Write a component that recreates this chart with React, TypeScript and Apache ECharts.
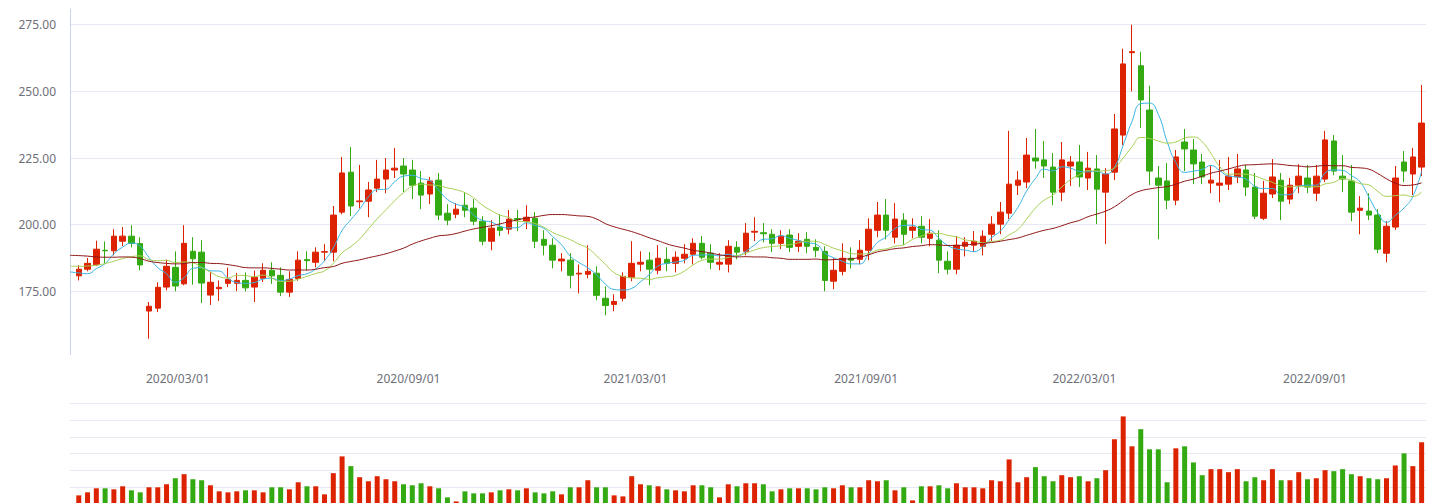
import React, { useEffect, useRef } from 'react';
import * as echarts from 'echarts';

// Week-ending trading dates (index 0 is the week before the first candle, used only by the MA lines)
const weeks: string[] = [
  '2019-11-29',
  '2019-12-06', '2019-12-13', '2019-12-20', '2019-12-27',
  '2020-01-03', '2020-01-10', '2020-01-17', '2020-01-23', '2020-02-07', '2020-02-14', '2020-02-21', '2020-02-28',
  '2020-03-06', '2020-03-13', '2020-03-20', '2020-03-27', '2020-04-03', '2020-04-10', '2020-04-17', '2020-04-24',
  '2020-04-30', '2020-05-08', '2020-05-15', '2020-05-22', '2020-05-29', '2020-06-05', '2020-06-12', '2020-06-19',
  '2020-06-24', '2020-07-03', '2020-07-10', '2020-07-17', '2020-07-24', '2020-07-31', '2020-08-07', '2020-08-14',
  '2020-08-21', '2020-08-28', '2020-09-04', '2020-09-11', '2020-09-18', '2020-09-25', '2020-09-30', '2020-10-09',
  '2020-10-16', '2020-10-23', '2020-10-30', '2020-11-06', '2020-11-13', '2020-11-20', '2020-11-27', '2020-12-04',
  '2020-12-11', '2020-12-18', '2020-12-25', '2020-12-31',
  '2021-01-08', '2021-01-15', '2021-01-22', '2021-01-29', '2021-02-05', '2021-02-10', '2021-02-19', '2021-02-26',
  '2021-03-05', '2021-03-12', '2021-03-19', '2021-03-26', '2021-04-02', '2021-04-09', '2021-04-16', '2021-04-23',
  '2021-04-30', '2021-05-07', '2021-05-14', '2021-05-21', '2021-05-28', '2021-06-04', '2021-06-11', '2021-06-18',
  '2021-06-25', '2021-07-02', '2021-07-09', '2021-07-16', '2021-07-23', '2021-07-30', '2021-08-06', '2021-08-13',
  '2021-08-20', '2021-08-27', '2021-09-03', '2021-09-10', '2021-09-17', '2021-09-24', '2021-09-30', '2021-10-08',
  '2021-10-15', '2021-10-22', '2021-10-29', '2021-11-05', '2021-11-12', '2021-11-19', '2021-11-26', '2021-12-03',
  '2021-12-10', '2021-12-17', '2021-12-24', '2021-12-31',
  '2022-01-07', '2022-01-14', '2022-01-21', '2022-01-28', '2022-02-11', '2022-02-18', '2022-02-25', '2022-03-04',
  '2022-03-11', '2022-03-18', '2022-03-25', '2022-04-01', '2022-04-08', '2022-04-15', '2022-04-22', '2022-04-29',
  '2022-05-06', '2022-05-13', '2022-05-20', '2022-05-27', '2022-06-02', '2022-06-10', '2022-06-17', '2022-06-24',
  '2022-07-01', '2022-07-08', '2022-07-15', '2022-07-22', '2022-07-29', '2022-08-05', '2022-08-12', '2022-08-19',
  '2022-08-26', '2022-09-02', '2022-09-09', '2022-09-16', '2022-09-23', '2022-09-30', '2022-10-14', '2022-10-21',
  '2022-10-28', '2022-11-04', '2022-11-11', '2022-11-18', '2022-11-25', '2022-12-02',
];

// OHLC for weeks[1..154]
const openP: number[] = [
  180.8, 183.3, 185.0, 190.4, 190.2, 193.8, 195.7, 192.9, 167.6, 168.7,
  176.6, 184.0, 177.8, 190.0, 189.7, 173.6, 176.0, 178.0, 178.0, 179.1,
  176.6, 179.9, 182.9, 181.0, 174.7, 179.8, 186.9, 185.9, 189.7, 189.7,
  204.7, 219.7, 208.6, 208.8, 213.7, 217.1, 220.5, 222.0, 220.5, 215.6,
  211.5, 216.7, 204.3, 203.9, 207.3, 206.2, 201.3, 193.8, 199.1, 198.3,
  202.3, 201.3, 202.4, 194.5, 192.3, 186.4, 186.7, 181.5, 181.4, 181.8,
  172.4, 170.1, 172.4, 180.3, 185.2, 186.7, 182.9, 187.0, 185.5, 187.4,
  188.9, 193.0, 189.3, 185.2, 185.2, 191.5, 190.0, 197.2, 197.0, 196.4,
  193.0, 196.1, 191.9, 194.5, 191.5, 190.0, 178.8, 182.5, 187.4, 187.0,
  190.4, 197.9, 203.6, 195.3, 201.7, 197.9, 199.4, 194.9, 194.2, 186.3,
  183.3, 191.9, 192.3, 191.9, 196.4, 200.2, 204.3, 214.8, 216.0, 225.0,
  224.3, 221.6, 212.2, 222.0, 223.5, 217.5, 220.9, 212.2, 219.7, 233.6,
  264.5, 259.6, 243.0, 217.5, 216.4, 209.2, 231.0, 228.0, 223.5, 215.6,
  214.8, 215.2, 217.9, 220.5, 214.1, 202.4, 211.5, 216.7, 209.6, 214.8,
  217.5, 211.8, 217.1, 231.4, 218.2, 216.4, 205.4, 205.1, 203.6, 189.3,
  199.1, 223.5, 219.0, 221.6,
];
const closeP: number[] = [
  183.3, 185.5, 190.8, 190.2, 195.7, 195.7, 193.0, 184.9, 169.4, 176.5,
  184.4, 177.0, 193.0, 187.2, 178.1, 178.4, 176.5, 179.5, 179.1, 176.3,
  180.3, 182.9, 180.8, 174.7, 179.5, 186.7, 186.5, 189.7, 189.9, 203.6,
  219.4, 207.0, 208.9, 213.0, 217.1, 220.5, 221.2, 219.0, 214.8, 211.1,
  216.4, 203.6, 201.7, 205.8, 205.4, 201.3, 193.8, 198.7, 197.9, 202.1,
  201.9, 202.8, 193.8, 192.3, 186.7, 187.1, 181.0, 181.8, 182.5, 173.5,
  169.7, 171.2, 180.6, 185.5, 185.9, 183.3, 187.4, 185.5, 187.8, 188.9,
  193.0, 187.8, 185.9, 185.9, 191.9, 189.7, 196.8, 197.5, 196.6, 193.0,
  195.7, 191.5, 193.8, 191.9, 190.4, 179.1, 182.9, 187.4, 186.7, 190.4,
  198.3, 203.6, 197.9, 202.1, 196.4, 199.1, 195.3, 196.8, 186.7, 183.3,
  192.3, 193.4, 193.8, 195.7, 200.2, 204.7, 215.2, 216.7, 226.1, 223.9,
  222.0, 212.2, 224.3, 223.5, 217.9, 221.2, 213.3, 219.0, 235.9, 260.3,
  264.9, 246.8, 220.1, 214.8, 209.2, 225.4, 228.4, 222.8, 217.9, 216.7,
  215.6, 218.2, 220.9, 214.1, 203.2, 211.8, 217.9, 208.8, 214.8, 218.2,
  214.1, 218.2, 231.8, 220.1, 217.1, 204.7, 206.2, 203.6, 190.8, 199.4,
  217.5, 220.1, 225.4, 238.1,
];
const lowP: number[] = [
  179.1, 182.5, 184.5, 185.4, 188.5, 192.0, 191.5, 182.9, 157.2, 167.2,
  175.4, 175.0, 177.3, 177.5, 170.6, 169.9, 171.4, 176.6, 175.1, 175.0,
  171.0, 178.5, 177.8, 173.2, 172.9, 179.0, 182.9, 184.0, 186.3, 186.3,
  203.9, 203.2, 206.1, 202.8, 212.2, 211.8, 217.5, 212.2, 209.6, 205.8,
  207.7, 201.7, 199.8, 202.4, 202.8, 199.8, 192.3, 190.4, 195.7, 196.4,
  197.6, 198.3, 191.2, 188.5, 183.6, 182.5, 176.1, 174.2, 179.9, 171.6,
  166.0, 167.5, 171.2, 178.8, 182.5, 177.3, 181.4, 182.5, 182.1, 185.5,
  185.1, 187.0, 183.3, 182.9, 182.1, 187.0, 188.5, 193.8, 193.4, 189.7,
  190.8, 189.7, 189.7, 189.3, 187.8, 175.0, 175.8, 181.0, 183.6, 185.1,
  186.7, 195.3, 194.5, 193.0, 192.3, 194.9, 193.0, 191.9, 181.8, 181.4,
  181.4, 188.1, 189.7, 188.5, 193.8, 196.4, 202.1, 211.1, 213.7, 221.0,
  217.5, 207.3, 208.8, 214.5, 214.1, 213.0, 200.2, 192.7, 216.7, 229.9,
  250.0, 236.3, 214.8, 194.5, 205.8, 207.3, 220.1, 215.2, 215.2, 211.8,
  208.4, 213.0, 215.6, 210.7, 202.1, 201.7, 210.0, 201.7, 207.7, 211.8,
  211.8, 208.8, 216.0, 218.6, 212.2, 201.3, 196.4, 201.7, 189.3, 185.9,
  198.0, 216.0, 211.1, 218.2,
];
const highP: number[] = [
  184.8, 187.5, 194.0, 193.7, 198.3, 199.1, 199.8, 195.3, 171.0, 178.4,
  186.9, 190.0, 199.8, 195.3, 194.2, 182.3, 179.1, 183.9, 181.9, 182.1,
  182.8, 185.5, 185.9, 184.0, 182.5, 190.0, 190.0, 191.5, 192.7, 207.0,
  225.4, 229.1, 222.4, 216.0, 224.3, 225.0, 228.8, 225.0, 224.3, 220.1,
  217.9, 219.4, 207.7, 208.1, 212.2, 209.6, 203.2, 201.7, 203.9, 205.5,
  205.5, 207.3, 204.7, 197.9, 194.9, 189.3, 189.3, 185.1, 192.3, 184.4,
  176.9, 173.9, 182.1, 193.8, 190.0, 189.7, 192.3, 191.5, 190.0, 192.7,
  194.9, 195.7, 192.7, 189.3, 194.2, 193.8, 200.6, 202.8, 200.6, 198.3,
  197.9, 198.3, 196.8, 197.2, 194.5, 191.9, 187.4, 193.0, 191.5, 194.2,
  202.4, 208.5, 209.6, 208.1, 204.3, 202.4, 203.2, 202.1, 197.9, 190.0,
  195.7, 195.3, 197.6, 197.9, 203.2, 208.5, 235.2, 220.1, 232.5, 235.9,
  231.4, 226.9, 231.0, 225.7, 229.9, 227.3, 226.1, 221.2, 241.5, 266.0,
  275.0, 264.9, 252.1, 222.0, 223.1, 228.0, 235.9, 232.1, 226.5, 222.4,
  224.3, 225.4, 226.5, 222.4, 219.4, 216.4, 224.6, 219.4, 217.5, 222.7,
  222.4, 222.4, 235.2, 233.6, 226.1, 222.4, 210.7, 211.8, 205.8, 201.3,
  222.0, 227.6, 228.8, 252.4,
];

// Weekly volume for weeks[1..154]
const volume: number[] = [
  126, 135, 147, 147, 144, 153, 141, 135, 150, 150,
  159, 177, 189, 174, 171, 156, 138, 135, 138, 141,
  141, 135, 150, 150, 144, 165, 153, 153, 129, 192,
  242, 213, 180, 168, 183, 174, 168, 159, 156, 162,
  153, 147, 120, 108, 138, 132, 132, 135, 141, 144,
  141, 147, 135, 132, 138, 129, 150, 150, 171, 150,
  150, 126, 123, 183, 159, 156, 153, 144, 141, 138,
  156, 156, 150, 120, 159, 153, 162, 162, 159, 138,
  144, 147, 147, 147, 144, 150, 147, 156, 150, 150,
  171, 168, 171, 141, 150, 111, 153, 153, 156, 147,
  162, 150, 150, 147, 171, 168, 233, 165, 180, 210,
  183, 168, 186, 180, 183, 168, 177, 201, 293, 361,
  272, 323, 263, 263, 165, 266, 272, 224, 186, 204,
  204, 195, 204, 168, 180, 171, 204, 171, 171, 195,
  174, 177, 201, 198, 204, 189, 183, 177, 174, 177,
  215, 251, 213, 284,
];

// Moving averages for weeks[0..154]
const ma5: number[] = [
  182.3,
  181.9, 181.6, 183.5, 185.4, 189.1, 191.6, 193.1, 191.9, 187.7, 183.9,
  181.6, 178.4, 180.1, 183.6, 183.9, 182.7, 182.6, 179.9, 178.3, 178.0,
  178.3, 179.6, 179.9, 179.0, 179.6, 180.9, 181.6, 183.4, 186.5, 191.3,
  197.8, 201.9, 205.8, 210.4, 213.1, 213.3, 216.1, 218.2, 218.5, 217.3,
  216.5, 213.0, 209.5, 207.7, 206.6, 203.6, 201.6, 201.0, 199.4, 198.8,
  198.9, 200.7, 199.7, 198.6, 195.5, 192.5, 188.2, 185.8, 183.8, 181.2,
  177.7, 175.7, 175.5, 176.1, 178.6, 181.3, 184.5, 185.5, 186.0, 186.6,
  188.5, 188.6, 188.7, 188.3, 188.9, 188.2, 190.0, 192.4, 194.5, 194.7,
  195.9, 194.9, 194.1, 193.2, 192.7, 189.3, 187.6, 186.3, 185.3, 185.3,
  189.1, 193.3, 195.4, 198.5, 199.7, 199.8, 198.2, 197.9, 194.9, 192.2,
  190.9, 190.5, 189.9, 191.7, 195.1, 197.6, 201.9, 206.5, 212.6, 217.3,
  220.8, 220.2, 221.7, 221.2, 220.0, 219.8, 220.0, 219.0, 221.5, 229.9,
  238.7, 245.4, 245.6, 241.4, 231.2, 223.3, 219.6, 220.1, 220.7, 222.2,
  220.3, 218.2, 217.9, 217.1, 214.4, 213.6, 213.6, 211.2, 211.3, 214.3,
  214.8, 214.8, 219.4, 220.5, 220.3, 218.4, 216.0, 210.3, 204.5, 200.9,
  203.5, 206.3, 210.6, 220.1,
];
const ma10: number[] = [
  184.4,
  184.4, 184.5, 184.8, 185.4, 186.3, 187.3, 188.0, 188.3, 186.9, 186.5,
  186.6, 185.8, 186.0, 185.7, 183.9, 182.2, 180.5, 180.0, 181.0, 180.9,
  180.5, 181.1, 179.9, 178.7, 178.8, 179.6, 180.6, 181.7, 182.7, 185.5,
  189.4, 191.8, 194.6, 198.4, 202.2, 205.6, 209.0, 212.0, 214.4, 215.2,
  214.9, 214.6, 213.8, 213.1, 212.0, 210.0, 207.3, 205.3, 203.6, 202.7,
  201.2, 201.1, 200.4, 199.0, 197.1, 195.7, 194.4, 192.7, 191.2, 188.3,
  185.1, 182.0, 180.6, 180.0, 179.9, 179.5, 180.1, 180.5, 181.0, 182.6,
  184.9, 186.6, 187.1, 187.1, 187.7, 188.4, 189.3, 190.5, 191.4, 191.8,
  192.1, 192.5, 193.2, 193.8, 193.7, 192.6, 191.2, 190.2, 189.2, 189.0,
  189.2, 190.5, 190.9, 191.9, 192.5, 194.5, 195.7, 196.7, 196.7, 196.0,
  195.4, 194.3, 193.9, 193.3, 193.7, 194.2, 196.2, 198.2, 202.1, 206.2,
  209.2, 211.1, 214.1, 216.9, 218.7, 220.3, 220.1, 220.3, 221.3, 225.0,
  229.2, 232.7, 232.3, 231.4, 230.6, 231.0, 232.5, 232.9, 231.1, 226.7,
  221.8, 218.9, 219.0, 218.9, 218.3, 217.0, 215.9, 214.5, 214.2, 214.4,
  214.2, 214.2, 215.3, 215.9, 217.3, 216.6, 215.4, 214.9, 212.5, 210.6,
  210.9, 211.1, 210.5, 212.3,
];
const ma30: number[] = [
  188.5,
  188.4, 188.2, 187.9, 187.8, 187.8, 187.9, 187.8, 187.3, 186.3, 185.8,
  185.5, 185.3, 185.4, 185.8, 185.8, 185.5, 185.4, 185.0, 184.5, 183.9,
  183.8, 183.8, 183.6, 183.3, 183.0, 183.0, 183.0, 183.3, 183.9, 184.3,
  185.5, 186.2, 186.8, 187.6, 188.3, 189.1, 190.1, 191.2, 192.7, 193.9,
  194.9, 195.8, 196.1, 196.7, 197.6, 198.4, 199.0, 199.6, 200.3, 201.1,
  201.8, 202.5, 202.9, 203.5, 203.8, 203.8, 203.6, 203.3, 203.1, 202.1,
  200.4, 199.2, 198.3, 197.4, 196.3, 195.1, 194.0, 192.8, 191.9, 191.2,
  190.4, 189.9, 189.4, 188.7, 188.3, 187.9, 188.0, 187.9, 187.9, 187.6,
  187.4, 187.0, 187.0, 187.0, 187.1, 186.8, 186.9, 187.1, 187.2, 187.8,
  188.7, 189.8, 190.4, 191.0, 191.3, 191.8, 192.1, 192.5, 192.4, 192.2,
  192.2, 192.4, 192.7, 193.0, 193.3, 193.8, 194.4, 195.0, 196.0, 197.0,
  197.9, 198.6, 199.6, 200.7, 201.6, 203.0, 204.0, 205.1, 206.7, 209.0,
  211.3, 212.7, 213.4, 213.9, 214.3, 215.2, 216.3, 217.1, 218.2, 219.3,
  220.1, 220.9, 221.8, 222.4, 222.5, 222.7, 222.8, 222.6, 222.2, 222.0,
  221.7, 221.9, 222.2, 222.1, 222.1, 221.5, 221.3, 220.8, 219.2, 217.2,
  215.6, 214.7, 214.9, 215.7,
];

// Dates shown on the x axis
const axisDates: string[] = ['2020-03-01', '2020-09-01', '2021-03-01', '2021-09-01', '2022-03-01', '2022-09-01'];

const UP = '#dd2200';
const DOWN = '#33aa11';
const GRID_LINE = '#e6e9f1';
const LABEL = '#6e7079';
const FONT = "'Noto Sans', sans-serif";

function dateToIndex(d: string): number {
  const t = Date.parse(d);
  for (let i = 0; i < weeks.length - 1; i++) {
    const a = Date.parse(weeks[i]);
    const b = Date.parse(weeks[i + 1]);
    if (t >= a && t < b) return i + (t - a) / (b - a);
  }
  return weeks.length - 1;
}

export default function App() {
  const ref = useRef<HTMLDivElement>(null);

  useEffect(() => {
    if (!ref.current) return;
    const prevHtml = document.documentElement.style.overflow;
    const prevBody = document.body.style.overflow;
    document.documentElement.style.overflow = 'hidden';
    document.body.style.overflow = 'hidden';
    const chart = echarts.init(ref.current, null, { renderer: 'svg' });

    const labelIdx = axisDates.map(dateToIndex);
    const labelText = (v: number) => {
      let best = 0;
      for (let j = 1; j < labelIdx.length; j++) {
        if (Math.abs(labelIdx[j] - v) < Math.abs(labelIdx[best] - v)) best = j;
      }
      return axisDates[best].replace(/-/g, '/');
    };

    const candles = openP.map((o, i) => ({
      name: weeks[i + 1],
      value: [i + 1, o, closeP[i], lowP[i], highP[i]],
    }));
    const vols = volume.map((v, i) => ({
      name: weeks[i + 1],
      value: [i + 1, v],
      itemStyle: { color: closeP[i] >= openP[i] ? UP : DOWN },
    }));
    const line = (arr: number[]) => arr.map((v, i) => [i, v]);
    const lastIdx = weeks.length - 1 + 0.5;

    const lineSeries = (name: string, data: number[], color: string) => ({
      name,
      type: 'line',
      xAxisIndex: 0,
      yAxisIndex: 0,
      data: line(data),
      smooth: true,
      showSymbol: false,
      symbol: 'none',
      lineStyle: { color, width: 1 },
      itemStyle: { color },
      z: 3,
    });

    chart.setOption({
      animation: false,
      textStyle: { fontFamily: FONT },
      grid: [
        { left: 70, top: 9, width: 1356, height: 345.5, outerBoundsMode: 'none', containLabel: false },
        { left: 70, top: 403.3, width: 1356, height: 134.4, outerBoundsMode: 'none', containLabel: false },
      ],
      xAxis: [
        {
          type: 'value',
          gridIndex: 0,
          min: 0,
          max: lastIdx,
          axisLine: { show: false },
          axisTick: { show: false },
          splitLine: { show: false },
          axisLabel: {
            customValues: labelIdx,
            formatter: (v: number) => labelText(v),
            margin: 18,
            color: LABEL,
            fontSize: 12,
            fontFamily: FONT,
          },
        },
        {
          type: 'value',
          gridIndex: 1,
          min: 0,
          max: lastIdx,
          axisLine: { show: false },
          axisTick: { show: false },
          splitLine: { show: false },
          axisLabel: { show: false },
        },
      ],
      yAxis: [
        {
          type: 'value',
          gridIndex: 0,
          scale: true,
          min: (v: { min: number; max: number }) => v.min - (v.max - v.min) * 0.05,
          max: (v: { min: number; max: number }) => v.max + (v.max - v.min) * 0.05,
          minInterval: 25,
          maxInterval: 25,
          axisLine: { show: true, lineStyle: { color: '#c6d5ec', width: 1 } },
          axisTick: { show: false },
          axisLabel: {
            formatter: (v: number) => v.toFixed(2),
            showMinLabel: false,
            showMaxLabel: false,
            margin: 14,
            color: LABEL,
            fontSize: 12,
            fontFamily: FONT,
          },
          splitLine: {
            show: true,
            showMinLine: false,
            showMaxLine: false,
            lineStyle: { color: GRID_LINE, width: 1 },
          },
        },
        {
          type: 'value',
          gridIndex: 1,
          min: 0,
          max: 400,
          interval: 50,
          axisLine: { show: false },
          axisTick: { show: false },
          axisLabel: { show: false },
          splitLine: { show: true, lineStyle: { color: GRID_LINE, width: 1 } },
        },
      ],
      series: [
        {
          name: 'K',
          type: 'candlestick',
          xAxisIndex: 0,
          yAxisIndex: 0,
          data: candles,
          barWidth: 6,
          itemStyle: {
            color: UP,
            color0: DOWN,
            borderColor: UP,
            borderColor0: DOWN,
            borderWidth: 1,
          },
          z: 2,
        },
        lineSeries('MA5', ma5, '#3ab3e4'),
        lineSeries('MA10', ma10, '#a6cf52'),
        lineSeries('MA30', ma30, '#8e1414'),
        {
          name: 'Volume',
          type: 'bar',
          xAxisIndex: 1,
          yAxisIndex: 1,
          data: vols,
          barWidth: 5,
        },
      ],
    });

    return () => {
      chart.dispose();
      document.documentElement.style.overflow = prevHtml;
      document.body.style.overflow = prevBody;
    };
  }, []);

  return (
    <div
      ref={ref}
      style={{ position: 'absolute', left: 0, top: 0, width: 1439, height: 503 }}
    />
  );
}
